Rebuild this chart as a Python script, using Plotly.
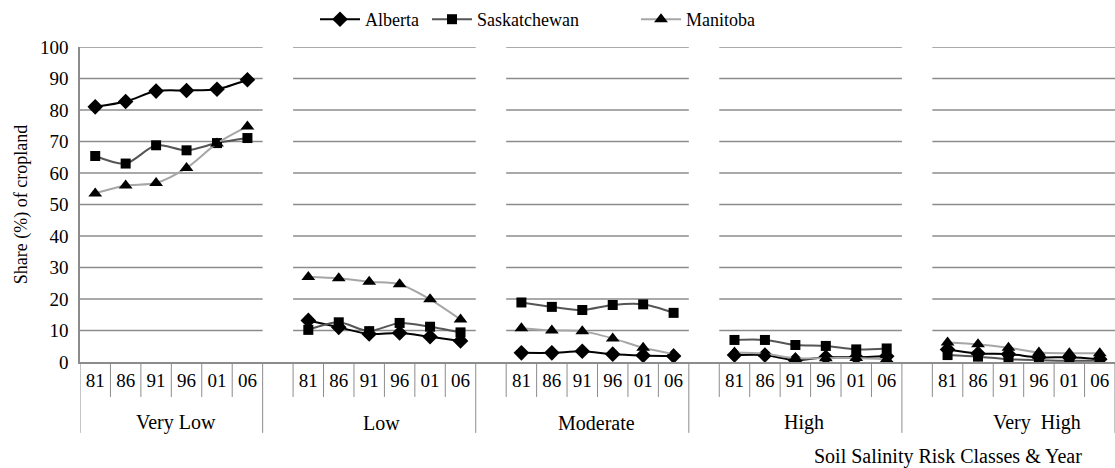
import plotly.graph_objects as go

years = ["81", "86", "91", "96", "01", "06"]
classes = ["Very Low", "Low", "Moderate", "High", "Very  High"]

alberta = [
    [81.0, 82.7, 86.0, 86.2, 86.6, 89.6],
    [13.2, 11.0, 8.9, 9.2, 8.0, 6.7],
    [2.9, 2.9, 3.4, 2.5, 2.1, 1.9],
    [2.2, 2.2, 0.6, 1.5, 1.5, 1.8],
    [4.0, 2.7, 2.5, 1.5, 1.5, 0.9],
]
saskatchewan = [
    [65.4, 63.0, 68.8, 67.2, 69.5, 71.1],
    [10.2, 12.6, 9.8, 12.4, 11.2, 9.4],
    [18.9, 17.5, 16.5, 18.1, 18.3, 15.6],
    [7.0, 7.0, 5.4, 5.1, 4.0, 4.3],
    [2.2, 1.7, 0.9, 0.6, 0.4, 0.5],
]
manitoba = [
    [53.5, 56.0, 56.8, 61.6, 69.4, 74.8],
    [27.0, 26.6, 25.5, 24.7, 19.9, 13.5],
    [10.7, 10.0, 9.8, 7.5, 4.5, 2.5],
    [3.0, 2.6, 1.2, 1.2, 1.3, 0.9],
    [6.2, 5.6, 4.5, 3.0, 2.8, 2.8],
]

series = [
    ("Alberta", alberta, "#000000", "diamond", 12),
    ("Saskatchewan", saskatchewan, "#555555", "square", 10),
    ("Manitoba", manitoba, "#a6a6a6", "triangle-up", 12),
]

FONT = "Liberation Serif"
STEP = len(years) + 1  # six years plus one blank slot before each later group
n_slots = len(classes) * STEP - 1

# layout helpers (pixels)
PLOT_L, PLOT_W, PLOT_T, PLOT_H = 80, 1035, 47, 315
legend_px = [315, 427, 636]          # left edge of each legend entry
legend_top_px = 1
label_shift = [5, -3, -1, -7, 13]    # fine placement of group labels


def pos(g, j):
    return g * STEP + j


fig = go.Figure()

legend_ids = ["legend", "legend2", "legend3"]
for (name, vals, color, sym, size), lid in zip(series, legend_ids):
    xs, ys = [], []
    for g, grp in enumerate(vals):
        for j, v in enumerate(grp):
            xs.append(pos(g, j))
            ys.append(v)
        xs.append(None)
        ys.append(None)
    fig.add_trace(go.Scatter(
        x=xs, y=ys, name=name, mode="lines+markers",
        line=dict(color=color, width=2, shape="spline", smoothing=0.8),
        marker=dict(symbol=sym, size=size, color="#000000"),
        connectgaps=False, legend=lid,
    ))

shapes = []
for g in range(len(classes)):
    x0 = pos(g, 0) - 0.5
    x1 = pos(g, len(years) - 1) + 0.5
    for yv in range(10, 101, 10):
        shapes.append(dict(type="line", xref="x", yref="y", x0=x0, x1=x1, y0=yv, y1=yv,
                           line=dict(color="#8c8c8c", width=1.5), layer="below"))

for k in range(n_slots + 1):
    xb = k - 0.5
    is_group = (k == 0) or (k % STEP == len(years)) or (k == n_slots)
    shapes.append(dict(type="line", xref="x", yref="paper", x0=xb, x1=xb,
                       y0=0, y1=-0.225 if is_group else -0.111,
                       line=dict(color="#8c8c8c", width=1)))

annotations = []
for g, cname in enumerate(classes):
    cx = (pos(g, 0) + pos(g, len(years) - 1)) / 2
    annotations.append(dict(text=cname, x=cx, xref="x", xshift=label_shift[g],
                            y=-0.193, yref="paper",
                            showarrow=False, font=dict(family=FONT, size=20, color="#000"),
                            xanchor="center", yanchor="middle"))

annotations.append(dict(text="Soil Salinity Risk Classes & Year", x=0.839, xref="paper",
                        y=-0.301, yref="paper", showarrow=False,
                        font=dict(family=FONT, size=20, color="#000"),
                        xanchor="center", yanchor="middle"))

tickvals = [pos(g, j) for g in range(len(classes)) for j in range(len(years))]
ticktext = [years[j] for g in range(len(classes)) for j in range(len(years))]

legend_common = dict(orientation="h", xanchor="left",
                     y=1 + (PLOT_T - legend_top_px) / PLOT_H, yanchor="top",
                     font=dict(family=FONT, size=18, color="#000"), itemwidth=40,
                     bgcolor="rgba(0,0,0,0)")
legends = {}
for lid, px in zip(legend_ids, legend_px):
    legends[lid] = dict(x=(px - PLOT_L) / PLOT_W, **legend_common)

fig.update_layout(
    width=1115, height=468,
    margin=dict(l=PLOT_L, r=0, t=PLOT_T, b=468 - PLOT_T - PLOT_H, autoexpand=False),
    paper_bgcolor="white", plot_bgcolor="white",
    font=dict(family=FONT, size=19, color="#000"),
    showlegend=True,
    xaxis=dict(range=[-0.5, n_slots - 0.5], tickvals=tickvals, ticktext=ticktext,
               showgrid=False, zeroline=False, showline=True, linecolor="#8c8c8c",
               linewidth=1.5, ticks="", tickfont=dict(family=FONT, size=19)),
    yaxis=dict(range=[0, 100], dtick=10, showgrid=False, zeroline=False,
               showline=True, linecolor="#8c8c8c", linewidth=1.5,
               ticks="outside", ticklen=6, tickcolor="white",
               tickfont=dict(family=FONT, size=19),
               title=dict(text="Share (%) of cropland", font=dict(family=FONT, size=18, color="#000"), standoff=8)),
    shapes=shapes,
    annotations=annotations,
    **legends,
)

fig.write_html("out.html", config={"displayModeBar": False},
               post_script="document.body.style.margin='0';")
